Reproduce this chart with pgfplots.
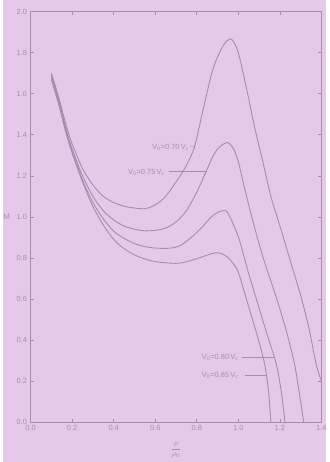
\documentclass[border=0pt]{standalone}
\usepackage{fontspec}
\setmainfont{Liberation Sans}
\usepackage{pgfplots}
\pgfplotsset{compat=1.18}
\usetikzlibrary{backgrounds}
\definecolor{bg}{HTML}{E6C9EA}
\definecolor{ink}{HTML}{A88BAE}
\tikzset{curve/.style={color=ink, line width=0.9bp, smooth, mark=none}}
\begin{document}
\begin{tikzpicture}
\begin{axis}[
  scale only axis, width=290.7bp, height=410.3bp,
  xmin=0, xmax=1.4, ymin=0, ymax=2.0,
  xtick={0,0.2,0.4,0.6,0.8,1.0,1.2,1.4},
  ytick={0,0.2,0.4,0.6,0.8,1.0,1.2,1.4,1.6,1.8,2.0},
  tick align=inside, major tick length=3bp,
  axis line style={ink, line width=0.8bp},
  tick style={ink, line width=0.6bp},
  /pgf/number format/assume math mode=true,
  ticklabel style={font=\fontsize{7.5}{8}\selectfont, text=ink,
    /pgf/number format/.cd, fixed, fixed zerofill, precision=1},
]
% V0 = 0.70 Vc
\addplot[curve] coordinates {(0.10,1.70)(0.12,1.635)(0.14,1.565)(0.17,1.45)(0.20,1.355)(0.25,1.235)(0.30,1.155)(0.35,1.10)(0.40,1.07)(0.45,1.052)(0.50,1.043)(0.55,1.04)(0.60,1.058)(0.65,1.10)(0.70,1.17)(0.75,1.25)(0.79,1.345)(0.83,1.52)(0.877,1.717)(0.925,1.831)(0.965,1.867)(1.00,1.80)(1.045,1.60)(1.078,1.44)(1.118,1.27)(1.157,1.10)(1.206,0.937)(1.254,0.774)(1.302,0.611)(1.342,0.449)(1.374,0.286)(1.398,0.205)};
% V0 = 0.75 Vc
\addplot[curve] coordinates {(0.10,1.69)(0.12,1.62)(0.14,1.55)(0.17,1.43)(0.20,1.33)(0.25,1.20)(0.30,1.10)(0.35,1.03)(0.40,0.985)(0.45,0.955)(0.50,0.94)(0.55,0.932)(0.604,0.935)(0.65,0.945)(0.70,0.975)(0.75,1.03)(0.80,1.12)(0.845,1.221)(0.88,1.30)(0.909,1.34)(0.947,1.362)(0.975,1.335)(1.00,1.27)(1.03,1.14)(1.078,0.95)(1.126,0.78)(1.182,0.611)(1.23,0.449)(1.27,0.286)(1.294,0.14)(1.315,0.0)};
% V0 = 0.80 Vc
\addplot[curve] coordinates {(0.10,1.68)(0.12,1.61)(0.14,1.54)(0.17,1.42)(0.20,1.32)(0.25,1.18)(0.30,1.07)(0.35,0.99)(0.40,0.93)(0.45,0.895)(0.50,0.87)(0.55,0.855)(0.60,0.848)(0.668,0.847)(0.72,0.86)(0.78,0.905)(0.829,0.953)(0.87,1.00)(0.909,1.026)(0.925,1.03)(0.949,1.02)(1.00,0.904)(1.045,0.741)(1.093,0.579)(1.142,0.416)(1.182,0.286)(1.206,0.156)(1.225,0.0)};
% V0 = 0.85 Vc
\addplot[curve] coordinates {(0.10,1.67)(0.12,1.60)(0.14,1.53)(0.17,1.41)(0.20,1.31)(0.25,1.17)(0.30,1.05)(0.35,0.96)(0.40,0.89)(0.45,0.845)(0.50,0.815)(0.55,0.795)(0.60,0.782)(0.65,0.776)(0.716,0.774)(0.78,0.79)(0.829,0.806)(0.87,0.82)(0.905,0.825)(0.94,0.81)(0.97,0.78)(1.00,0.73)(1.045,0.579)(1.093,0.416)(1.126,0.286)(1.145,0.156)(1.157,0.0)};

\node[anchor=east, inner sep=1bp, font=\fontsize{7.5}{8}\selectfont, text=ink] at (axis cs:0.768,1.337) {V\textsubscript{0}=0.70\,V\textsubscript{c}};
\draw[ink, line width=0.6bp] (axis cs:0.768,1.345) -- (axis cs:0.788,1.345) -- (axis cs:0.790,1.330);
\node[anchor=east, inner sep=1bp, font=\fontsize{7.5}{8}\selectfont, text=ink] at (axis cs:0.652,1.216) {V\textsubscript{0}=0.75\,V\textsubscript{c}};
\draw[ink, line width=0.6bp] (axis cs:0.665,1.221) -- (axis cs:0.845,1.221);
\node[anchor=east, inner sep=1bp, font=\fontsize{7.5}{8}\selectfont, text=ink] at (axis cs:1.007,0.314) {V\textsubscript{0}=0.80\,V\textsubscript{c}};
\draw[ink, line width=0.6bp] (axis cs:1.02,0.317) -- (axis cs:1.172,0.317);
\node[anchor=east, inner sep=1bp, font=\fontsize{7.5}{8}\selectfont, text=ink] at (axis cs:1.007,0.228) {V\textsubscript{0}=0.85\,V\textsubscript{c}};
\draw[ink, line width=0.6bp] (axis cs:1.03,0.228) -- (axis cs:1.134,0.228);
\end{axis}
\node[text=ink, font=\fontsize{8}{9}\selectfont] at ([xshift=-24bp]current axis.west) {M};
\node[text=ink, font=\fontsize{8}{9}\selectfont] at ([yshift=-28bp]current axis.south) {$\displaystyle\frac{\rho}{\rho_0}$};
\begin{scope}[on background layer]
\fill[bg] ([shift={(-28bp,-40bp)}]current axis.south west) rectangle ([shift={(4.3bp,11.7bp)}]current axis.north east);
\end{scope}
\useasboundingbox ([shift={(-28bp,-40bp)}]current axis.south west) rectangle ([shift={(4.3bp,11.7bp)}]current axis.north east);
\end{tikzpicture}
\end{document}
